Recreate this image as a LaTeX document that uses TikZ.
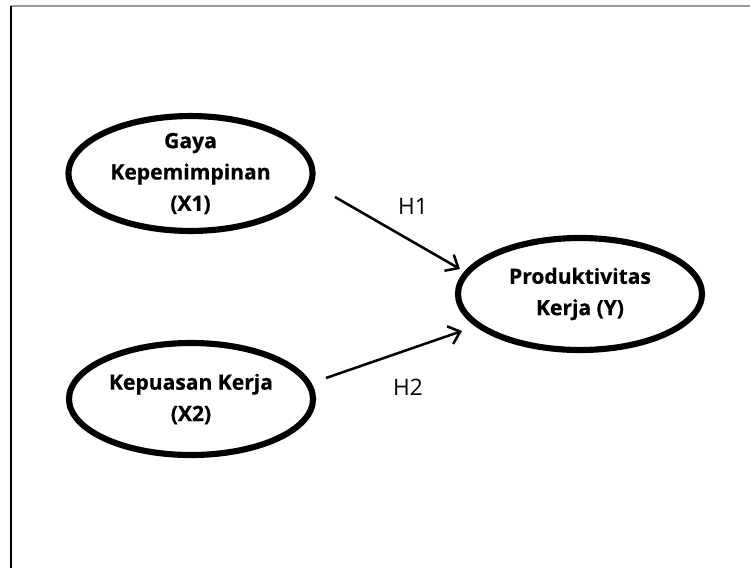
\documentclass[tikz,border=0pt]{standalone}
\usepackage{fontspec}
\setmainfont{Open Sans}[BoldFeatures={FakeBold=0.6}]
\usetikzlibrary{shapes.geometric,arrows.meta}
\begin{document}
\begin{tikzpicture}[x=0.75pt,y=-0.75pt,
  var/.style={ellipse,draw=black,line width=4.6pt,minimum width=183pt,minimum height=84pt,inner sep=0pt,
    align=center,font=\fontsize{15.8}{23.5}\selectfont\bfseries},
  path/.style={line width=1.9pt,-{Straight Barb[length=8pt,width=14pt,line width=1.9pt]}},
  hlab/.style={font=\fontsize{17}{20}\selectfont}]
\useasboundingbox (0,0) rectangle (750,569);
\draw[gray!80,line width=1.2pt] (11,6) -- (750,6);
\draw[black,line width=1.1pt] (11,6) -- (11,568);
\node[var] (x1) at (190.5,173.5) {Gaya\\Kepemimpinan\\(X1)};
\node[var] (x2) at (191,399) {Kepuasan Kerja\\(X2)};
\node[var] (y) at (580,294) {Produktivitas\\Kerja (Y)};
\coordinate (h1s) at (335,197);
\coordinate (h1e) at (460,269);
\coordinate (h2s) at (326,378);
\coordinate (h2e) at (462,331);
\draw[path] (h1s) -- (h1e);
\draw[path] (h2s) -- (h2e);
\node[hlab] (h1) at (413,206) {H1};
\node[hlab] (h2) at (408,387) {H2};
\end{tikzpicture}
\end{document}
